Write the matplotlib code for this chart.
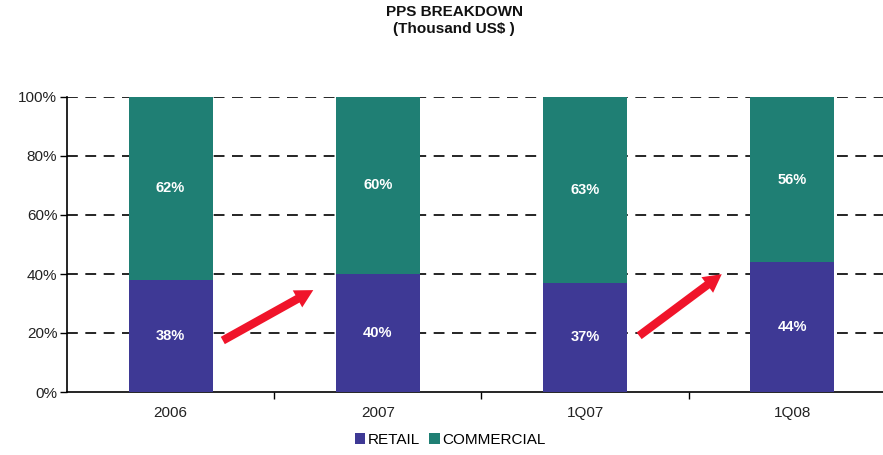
import matplotlib
matplotlib.use("Agg")
import matplotlib.pyplot as plt
import numpy as np

plt.rcParams['font.family'] = ['Liberation Sans', 'DejaVu Sans']

categories = ["2006", "2007", "1Q07", "1Q08"]
retail = [38, 40, 37, 44]
commercial = [62, 60, 63, 56]
yticks = [0, 20, 40, 60, 80, 100]
ytick_labels = ["0%", "20%", "40%", "60%", "80%", "100%"]

retail_color = "#3E3995"
commercial_color = "#1F7F74"

W, H = 883, 455
fig = plt.figure(figsize=(W / 100, H / 100), dpi=100)
ax = fig.add_axes([67 / W, 63 / H, 829 / W, 295 / H])

x = np.arange(len(categories))
bw = 0.405
ax.bar(x, retail, bw, color=retail_color, label="RETAIL", zorder=3)
ax.bar(x, commercial, bw, bottom=retail, color=commercial_color, label="COMMERCIAL", zorder=3)

for xi, r, c in zip(x, retail, commercial):
    ax.text(xi, r / 2, f"{r}%", ha="center", va="center", color="white",
            fontsize=10.5, fontweight="bold", zorder=4)
    ax.text(xi, r + c / 2, f"{c}%", ha="center", va="center", color="white",
            fontsize=10.5, fontweight="bold", zorder=4)

ax.set_xlim(-0.5, len(categories) - 0.5)
ax.set_ylim(0, 100)
ax.set_yticks(yticks)
ax.set_yticklabels(ytick_labels, fontsize=11, color="#222222")
ax.set_xticks(x)
ax.set_xticklabels(categories, fontsize=11, color="#222222")
ax.tick_params(axis="x", length=0, pad=10)
ax.set_xticks(np.arange(len(categories)) + 0.5, minor=True)
ax.tick_params(axis="x", which="minor", length=5, direction="out", width=1, color="black")
ax.tick_params(axis="y", length=5, direction="out", width=1, color="black", pad=2)

for yv in yticks[1:]:
    ax.axhline(yv, color="black", linestyle=(0, (6.5, 4.5)), linewidth=1.2, zorder=1)

for s in ["top", "right"]:
    ax.spines[s].set_visible(False)
ax.spines["left"].set_linewidth(1.2)
ax.spines["bottom"].set_linewidth(1.2)

# red trend arrows
arrows = [((0.24, 17), (0.70, 35)), ((2.25, 18.5), (2.67, 40.5))]
for (x0, y0), (x1, y1) in arrows:
    ax.annotate("", xy=(x1, y1), xytext=(x0, y0),
                arrowprops=dict(arrowstyle="simple,head_length=1.3,head_width=1.4,tail_width=0.6",
                                color="#F0142A", lw=0), zorder=5)

fig.text(454 / W, 1 - 12 / H, "PPS BREAKDOWN", ha="center", va="center",
         fontsize=11, fontweight="bold", color="#111111")
fig.text(454 / W, 1 - 29 / H, "(Thousand US$ )", ha="center", va="center",
         fontsize=11, fontweight="bold", color="#111111")

leg = fig.legend(loc="center", bbox_to_anchor=(450 / W, 1 - 440 / H), ncol=2, frameon=False,
                 fontsize=11, handlelength=0.7, handleheight=0.7, handletextpad=0.15,
                 columnspacing=0.6, borderaxespad=0)

fig.savefig("out.png", dpi=100)
